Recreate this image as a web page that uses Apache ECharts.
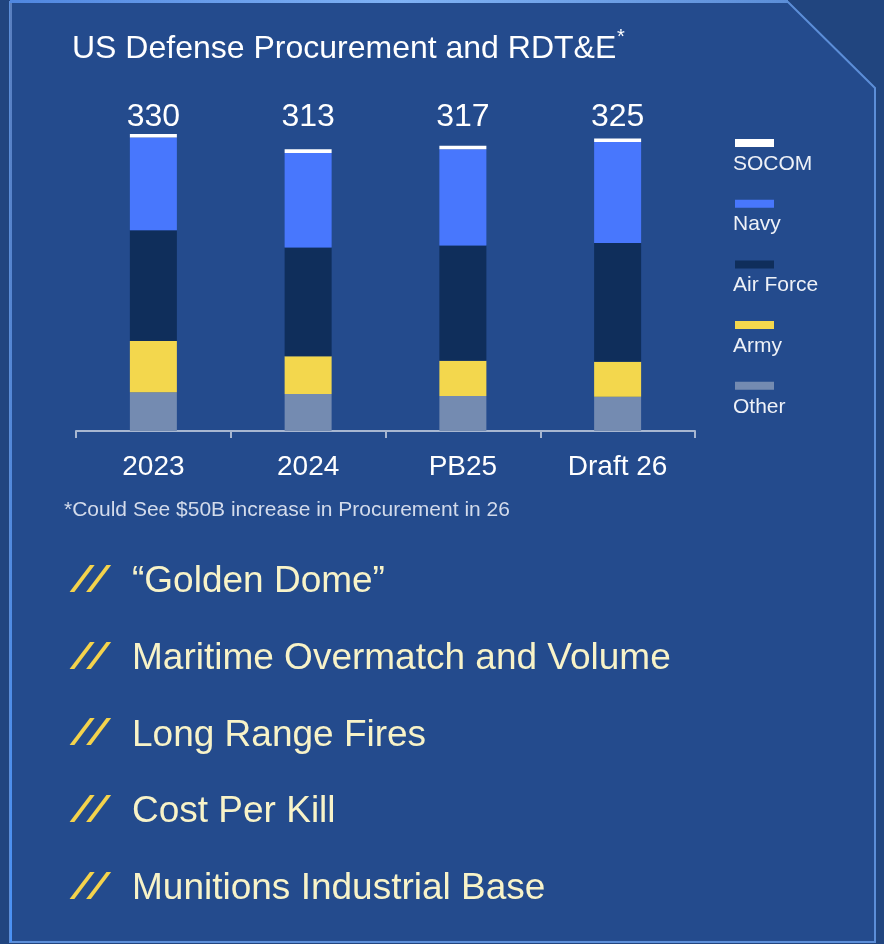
<!DOCTYPE html>
<html>
<head>
<meta charset="utf-8">
<script src="https://cdn.jsdelivr.net/npm/echarts@6/dist/echarts.min.js"></script>
<style>
  html, body { margin: 0; padding: 0; background: #21457f; }
  #chart { width: 884px; height: 944px; }
</style>
</head>
<body>
<div id="chart"></div>
<script>
const FONT = '"Liberation Sans", Arial, sans-serif';

// data ($B)
const categories = ['2023', '2024', 'PB25', 'Draft 26'];
const totals = [330, 313, 317, 325];
const other = [43, 41, 39, 38];
const army = [57, 42, 39, 39];
const airForce = [123, 121, 128, 132];
const navy = [103, 105, 107, 112];
const socom = [4, 4, 4, 4];

const legendOrder = ['SOCOM', 'Navy', 'Air Force', 'Army', 'Other'];

const titleText = 'US Defense Procurement and RDT&E';
const footnote = '*Could See $50B increase in Procurement in 26';
const bullets = [
  '\u201cGolden Dome\u201d',
  'Maritime Overmatch and Volume',
  'Long Range Fires',
  'Cost Per Kill',
  'Munitions Industrial Base'
];

const myChart = echarts.init(document.getElementById('chart'));

// bullet list, one row every ~77px
const bulletGraphics = [];
bullets.forEach((b, i) => {
  const cy = 582 + i * 76.7;
  bulletGraphics.push({
    type: 'text', x: 73, y: cy, scaleX: 1.65, silent: true,
    style: { text: '//', font: 'italic 36px ' + FONT, fill: '#f4d34c', verticalAlign: 'middle' }
  });
  bulletGraphics.push({
    type: 'text', x: 132, y: cy, silent: true,
    style: { text: b, font: '37px ' + FONT, fill: '#f8f3c8', verticalAlign: 'middle' }
  });
});

const bar = (name, data, color) => ({
  name: name,
  type: 'bar',
  stack: 'total',
  barWidth: 47,
  itemStyle: { color: color },
  data: data
});

const option = {
  backgroundColor: '#21457f',
  animation: false,
  title: [
    { text: titleText, left: 72, top: 33, padding: 0,
      textStyle: { color: '#ffffff', fontSize: 32, fontWeight: 'normal', fontFamily: FONT } },
    { text: '*', left: 617, top: 27, padding: 0,
      textStyle: { color: '#ffffff', fontSize: 20, fontWeight: 'normal', fontFamily: FONT } },
    { text: footnote, left: 64, top: 500, padding: 0,
      textStyle: { color: '#d3dbeb', fontSize: 21, fontWeight: 'normal', fontFamily: FONT } }
  ],
  legend: {
    orient: 'vertical',
    left: 728,
    top: 96,
    icon: 'rect',
    itemWidth: 39,
    itemHeight: 8,
    itemGap: -23.3,
    data: legendOrder,
    formatter: n => '\n' + n,
    textStyle: { color: '#eef1f7', fontSize: 21, lineHeight: 42, fontFamily: FONT, padding: [0, 0, 0, -46] }
  },
  grid: { left: 76, right: 189, top: 116, bottom: 513 },
  xAxis: [
    {
      type: 'category',
      data: categories,
      axisLine: { lineStyle: { color: '#a8b7d1', width: 2 } },
      axisTick: { show: true, length: 7, lineStyle: { color: '#a8b7d1', width: 2 } },
      axisLabel: { color: '#ffffff', fontSize: 28, fontFamily: FONT, margin: 22 }
    },
    {
      // totals row above the bars
      type: 'category',
      position: 'top',
      data: totals.map(String),
      axisLine: { show: false },
      axisTick: { show: false },
      axisLabel: { color: '#ffffff', fontSize: 32, fontFamily: FONT, margin: -17 }
    }
  ],
  yAxis: { type: 'value', min: 0, max: 350, show: false },
  series: [
    bar('Other', other, '#748bb1'),
    bar('Army', army, '#f3d74d'),
    bar('Air Force', airForce, '#0f2e5b'),
    bar('Navy', navy, '#4877fd'),
    bar('SOCOM', socom, '#ffffff')
  ],
  graphic: [
    {
      type: 'polygon', z: -100, silent: true,
      shape: { points: [[10, 2], [788, 2], [875, 88], [875, 942], [10, 942]] },
      style: { fill: '#244b8d', stroke: '#5c8ed8', lineWidth: 2 }
    },
    {
      type: 'line', z: -99, silent: true,
      shape: { x1: 11, y1: 2, x2: 11, y2: 942 },
      style: {
        lineWidth: 2,
        stroke: new echarts.graphic.LinearGradient(0, 0, 0, 1, [
          { offset: 0, color: '#5a7fbf' }, { offset: 1, color: '#4b92f5' }
        ])
      }
    },
    {
      type: 'line', z: -99, silent: true,
      shape: { x1: 10, y1: 1.5, x2: 788, y2: 1.5 },
      style: {
        lineWidth: 3,
        stroke: new echarts.graphic.LinearGradient(0, 0, 1, 0, [
          { offset: 0, color: '#4f86e0' }, { offset: 0.5, color: '#7fb2f5' }, { offset: 1, color: '#5c8ed8' }
        ])
      }
    }
  ].concat(bulletGraphics)
};

myChart.setOption(option);
</script>
</body>
</html>
